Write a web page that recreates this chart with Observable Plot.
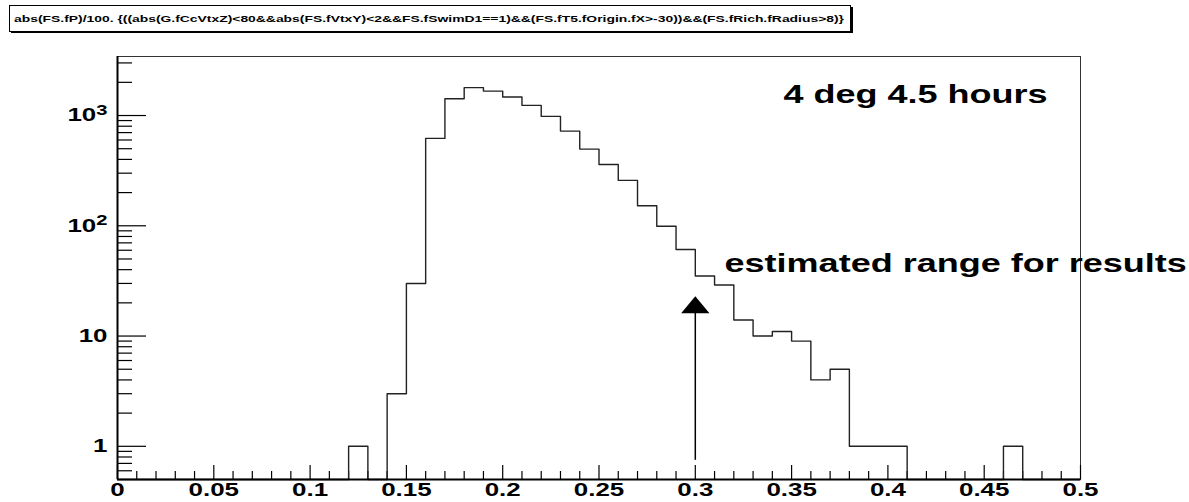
<!DOCTYPE html>
<html><head><meta charset="utf-8">
<script src="https://cdn.jsdelivr.net/npm/d3@7"></script>
<script src="https://cdn.jsdelivr.net/npm/@observablehq/plot@0.6"></script>
<style>
html,body{margin:0;padding:0;background:#fff;overflow:hidden;}
#wrap{position:relative;width:1189px;height:502px;}
#wrap svg{position:absolute;left:0;top:0;}
</style></head><body><div id="wrap"></div>
<script>
// ---- data ----
const binWidth = 0.01;
const counts = [0,0,0,0,0,0,0,0,0,0,
                0,0,1,0,3,30,620,1420,1790,1665,
                1470,1236,982,722,496,360,258,152,99,61,
                35,29,14,10,11,9,4,5,1,1,
                1,0,0,0,0,0,1,0,0,0];
const xTicks = [0,0.05,0.1,0.15,0.2,0.25,0.3,0.35,0.4,0.45,0.5];
const xTickLabels = ["0","0.05","0.1","0.15","0.2","0.25","0.3","0.35","0.4","0.45","0.5"];
const yTicks = [1,10,100,1000];
const yTickLabels = ["1","10","10^2","10^3"];
const yMinorTicks = [0.6,0.7,0.8,0.9,2,3,4,5,6,7,8,9,20,30,40,50,60,70,80,90,200,300,400,500,600,700,800,900,2000,3000];
const titleText = "abs(FS.fP)/100. {((abs(G.fCcVtxZ)<80&&abs(FS.fVtxY)<2&&FS.fSwimD1==1)&&(FS.fT5.fOrigin.fX>-30))&&(FS.fRich.fRadius>8)}";
const noteTexts = ["4 deg 4.5 hours", "estimated range for results"];
const noteX = [0.3458, 0.3152];
const noteY = [1550, 45];
const arrowX = [0.3];
const arrowFrom = [0.746];
const arrowTo = [18.1];

// ---- layout ----
const W = 1189, H = 502;
const mL = 117, mR = 109, mT = 56, mB = 23;
const frameW = W - mL - mR, frameH = H - mT - mB;
const yDomain = [0.5, 3430];
const stretch = 1.44;
const FONT = "'Liberation Sans', Arial, Helvetica, sans-serif";

const xMinor = d3.range(0, 51).map(i => +(i * binWidth).toFixed(2)).filter(v => !xTicks.some(t => Math.abs(t - v) < 1e-9));
const histPts = counts.map((c, i) => ({x: i * binWidth, y: c > 0 ? c : yDomain[0]}));
histPts.push({x: counts.length * binWidth, y: yDomain[0]});
const notes = noteTexts.map((t, i) => ({text: t, x: noteX[i], y: noteY[i]}));
const arrows = arrowX.map((x, i) => ({x, y1: arrowFrom[i], y2: arrowTo[i]}));

const chart = Plot.plot({
  width: W, height: H,
  marginLeft: mL, marginRight: mR, marginTop: mT, marginBottom: mB,
  style: {fontFamily: FONT, fontSize: "18px", fontWeight: "bold", color: "#000", background: "#fff"},
  x: {domain: [0, 0.5], label: null},
  y: {type: "log", domain: yDomain, label: null},
  marks: [
    Plot.frame({stroke: "#333", strokeWidth: 1}),
    Plot.tickX(xMinor, {x: d => d, insetTop: frameH - 8, stroke: "#000", strokeWidth: 1.2}),
    Plot.tickX(xTicks, {x: d => d, insetTop: frameH - 14, stroke: "#000", strokeWidth: 1.2}),
    Plot.tickY(yMinorTicks, {y: d => d, insetRight: frameW - 15, stroke: "#000", strokeWidth: 1.2}),
    Plot.tickY(yTicks, {y: d => d, insetRight: frameW - 29, stroke: "#000", strokeWidth: 1.2}),
    Plot.line(histPts, {x: "x", y: "y", curve: "step-after", stroke: "#222", strokeWidth: 1.4}),
    Plot.ruleX(arrows, {x: "x", y1: "y1", y2: "y2", stroke: "#000", strokeWidth: 1.5}),
    Plot.dot(arrows, {x: "x", y: "y2", symbol: "triangle", r: 7.3, fill: "#000", stroke: "none"}),
    Plot.text(notes, {x: "x", y: "y", text: "text", textAnchor: "start", lineAnchor: "middle", fontSize: 25, fontWeight: "bold", fill: "#000"}),
    Plot.ruleX([0], {stroke: "#000", strokeWidth: 2}),
    Plot.ruleY([yDomain[0]], {stroke: "#000", strokeWidth: 2}),
    Plot.axisX({ticks: xTicks, tickSize: 0, tickPadding: 4, label: null, tickFormat: d => xTickLabels[xTicks.indexOf(d)], fill: "#000"}),
    Plot.axisY({ticks: yTicks, tickSize: 0, tickPadding: 10, label: null, tickFormat: d => yTickLabels[yTicks.indexOf(d)], fill: "#000"})
  ]
});
document.getElementById("wrap").appendChild(chart);

// render "10^n" tick labels with a raised exponent
d3.select(chart).selectAll("text").each(function() {
  const s = this.textContent;
  if (s.includes("^") && this.children.length === 0) {
    const [base, exp] = s.split("^");
    this.textContent = base;
    d3.select(this).append("tspan").attr("dy", "-0.45em").attr("font-size", 14).text(exp);
  }
});
// horizontal stretch of text (reference image is stretched horizontally)
d3.select(chart).selectAll("text").each(function() {
  const w = this.getComputedTextLength();
  if (w > 0) {
    this.setAttribute("textLength", w * stretch);
    this.setAttribute("lengthAdjust", "spacingAndGlyphs");
  }
});
d3.select(chart).selectAll("g[aria-label='dot'] path").each(function() {
  const t = this.getAttribute("transform") || "";
  this.setAttribute("transform", t + " scale(" + stretch + ",1)");
});

// title box (drawn above the plot area)
const tsvg = d3.select("#wrap").append("svg").attr("width", W).attr("height", 40);
tsvg.append("rect").attr("x", 11).attr("y", 7).attr("width", 842).attr("height", 26).attr("fill", "#000");
tsvg.append("rect").attr("x", 9.5).attr("y", 5.5).attr("width", 841).attr("height", 26).attr("fill", "#fff").attr("stroke", "#000").attr("stroke-width", 1);
tsvg.append("text").attr("x", 14).attr("y", 22).attr("font-family", FONT).attr("font-size", 9.5).attr("font-weight", "bold")
  .attr("textLength", 830).attr("lengthAdjust", "spacingAndGlyphs").text(titleText);
</script></body></html>
